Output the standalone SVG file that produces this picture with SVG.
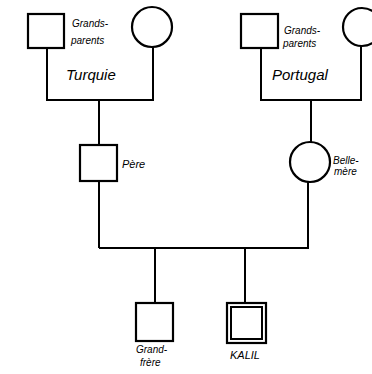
<svg xmlns="http://www.w3.org/2000/svg" width="372" height="374" viewBox="0 0 372 374">
<style>
.s{fill:#fff;stroke:#000;stroke-width:2.2}
.l{fill:none;stroke:#000;stroke-width:2}
.t{font-family:"Liberation Sans",Arial,sans-serif;font-style:italic;fill:#000}
.sm{font-size:10px}
.lg{font-size:15px}
.md{font-size:11px}
</style>
<g id="connectors">
<polyline class="l" points="47,48 47,100 153,100 153,47"/>
<line class="l" x1="99" y1="100" x2="99" y2="145"/>
<polyline class="l" points="261,48 261,100 361,100 361,46"/>
<line class="l" x1="311" y1="100" x2="311" y2="142"/>
<line class="l" x1="99" y1="181" x2="99" y2="248"/>
<polyline class="l" points="99,248 308,248 308,182"/>
<line class="l" x1="155" y1="248" x2="155" y2="303"/>
<line class="l" x1="245" y1="248" x2="245" y2="303"/>
</g>
<g id="gp-turquie-father"><rect class="s" x="28" y="14" width="36" height="34"/></g>
<g id="gp-turquie-mother"><circle class="s" cx="152" cy="27" r="20"/></g>
<g id="gp-turquie-label">
<text class="t sm" x="72" y="27">Grands-</text>
<text class="t sm" x="71" y="44">parents</text>
<text class="t lg" x="66" y="80">Turquie</text>
</g>
<g id="gp-portugal-father"><rect class="s" x="241" y="14" width="37" height="34"/></g>
<g id="gp-portugal-mother"><circle class="s" cx="362" cy="27" r="19"/></g>
<g id="gp-portugal-label">
<text class="t sm" x="284" y="34">Grands-</text>
<text class="t sm" x="283" y="47">parents</text>
<text class="t lg" x="272" y="80">Portugal</text>
</g>
<g id="pere"><rect class="s" x="80" y="145" width="37" height="36"/>
<text class="t md" x="122" y="168">Père</text></g>
<g id="belle-mere"><circle class="s" cx="310" cy="162" r="20"/>
<text class="t sm" x="333" y="164">Belle-</text>
<text class="t sm" x="334" y="175">mère</text></g>
<g id="grand-frere"><rect class="s" x="136" y="303" width="37" height="38"/>
<text class="t sm" x="136" y="353">Grand-</text>
<text class="t sm" x="140" y="366">frère</text></g>
<g id="kalil"><rect class="s" x="227" y="303" width="39" height="40"/>
<rect class="l" x="231" y="307" width="31" height="32"/>
<text class="t md" x="230" y="359">KALIL</text></g>
</svg>
